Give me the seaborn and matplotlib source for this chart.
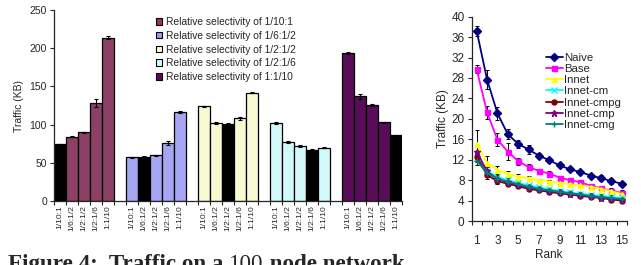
import numpy as np
import pandas as pd
import seaborn as sns
import matplotlib.pyplot as plt
from matplotlib.patches import Patch
from matplotlib.ticker import FixedLocator

# ---- left chart data: traffic by relative selectivity ----
selectivities = ["1/10:1", "1/6:1/2", "1/2:1/2", "1/2:1/6", "1:1/10"]
group_names = ["Relative selectivity of " + s for s in selectivities]
group_colors = ["#993366", "#9999FF", "#FFFFCC", "#CCFFFF", "#660066"]
traffic_g1 = [74, 84, 90, 128, 214]
traffic_g2 = [57, 58, 60, 76, 117]
traffic_g3 = [124, 102, 101, 108, 142]
traffic_g4 = [102, 77, 72, 67, 70]
traffic_g5 = [194, 137, 126, 103, 86]
err_g1 = [0.6, 0.8, 0.8, 5.5, 2.0]
err_g2 = [0.6, 0.6, 0.6, 2.8, 1.2]
err_g3 = [0.8, 1.2, 0.6, 1.8, 1.2]
err_g4 = [1.2, 1.5, 0.8, 0.5, 0.8]
err_g5 = [1.2, 3.2, 1.0, 1.0, 0.5]

# ---- right chart data: traffic by rank ----
ranks = list(range(1, 16))
series_names = ["Naive", "Base", "Innet", "Innet-cm", "Innet-cmpg", "Innet-cmp", "Innet-cmg"]
naive = [37.2, 27.7, 21.1, 17.0, 15.1, 14.0, 12.8, 11.9, 10.9, 10.1, 9.6, 8.9, 8.4, 7.8, 7.3]
base = [29.7, 21.3, 15.9, 13.6, 11.7, 10.6, 9.8, 9.3, 8.5, 8.0, 7.6, 6.9, 6.4, 5.9, 5.5]
innet = [15.1, 11.4, 10.0, 9.2, 8.7, 8.4, 8.0, 7.7, 7.5, 7.2, 7.0, 6.7, 6.3, 5.8, 5.3]
innet_cm = [12.4, 9.8, 8.6, 8.0, 7.4, 7.0, 6.6, 6.2, 5.9, 5.6, 5.3, 5.1, 4.9, 4.7, 4.5]
innet_cmpg = [12.6, 9.0, 7.8, 7.3, 6.8, 6.3, 6.0, 5.7, 5.4, 5.2, 4.9, 4.7, 4.5, 4.2, 4.0]
innet_cmp = [13.6, 9.7, 8.2, 7.6, 7.1, 6.6, 6.2, 5.9, 5.6, 5.3, 5.1, 4.8, 4.6, 4.4, 4.2]
innet_cmg = [11.8, 9.4, 8.3, 7.7, 7.2, 6.7, 6.3, 6.0, 5.7, 5.4, 5.2, 4.9, 4.7, 4.5, 4.3]
naive_err = [1.0, 1.9, 1.3, 1.0, 0.8, 0.8, 0.5, 0.4, 0.4, 0.4, 0.4, 0.4, 0.6, 0.6, 0.4]
base_err = [0.8, 1.3, 1.3, 1.6, 0.7, 0.5, 0.4, 0.4, 0.3, 0.3, 0.3, 0.3, 0.4, 0.5, 0.5]
innet_err = [2.7, 1.3, 0.8, 0.6, 0.5, 0.4, 0.3, 0.3, 0.3, 0.3, 0.3, 0.3, 0.3, 0.3, 0.3]
low_err = [0.9, 0.8, 0.5, 0.4, 0.3, 0.3, 0.3, 0.3, 0.3, 0.3, 0.3, 0.3, 0.3, 0.3, 0.3]
series_colors = ["#000080", "#FF00FF", "#FFFF00", "#00FFFF", "#800000", "#800080", "#008080"]
series_markers = ["D", "s", "^", "x", "o", "*", "+"]

sns.set_style("ticks")
plt.rcParams["font.family"] = ["Liberation Sans", "DejaVu Sans"]

fig = plt.figure(figsize=(6.41, 2.65), dpi=100)
ax1 = fig.add_axes([54 / 641, 64 / 265, 348 / 641, 191 / 265])
ax2 = fig.add_axes([471.5 / 641, 44 / 265, 155.5 / 641, 204.3 / 265])

# ---- left: grouped bars, one empty slot between groups ----
values = [traffic_g1, traffic_g2, traffic_g3, traffic_g4, traffic_g5]
errors = [err_g1, err_g2, err_g3, err_g4, err_g5]
rows = []
order = []
for g in range(5):
    for i in range(5):
        key = f"g{g}_{i}"
        order.append(key)
        rows.append(dict(key=key, value=values[g][i], err=errors[g][i],
                         label=selectivities[i],
                         color="black" if g == i else group_colors[g]))
    if g < 4:
        order.append(f"gap{g}")
bars = pd.DataFrame(rows)
bars["pos"] = [order.index(k) for k in bars["key"]]

sns.barplot(data=bars, x="key", y="value", hue="key", order=order,
            palette=dict(zip(bars["key"], bars["color"])), width=1.0,
            edgecolor="black", linewidth=0.9, legend=False, errorbar=None, ax=ax1)
ax1.errorbar(bars["pos"], bars["value"], yerr=bars["err"], fmt="none",
             ecolor="black", elinewidth=0.8, capsize=1.5, capthick=0.8)
ax1.set_xlim(-0.5, len(order) - 0.5)
ax1.set_ylim(0, 250)
ax1.set_yticks([0, 50, 100, 150, 200, 250])
ax1.set_xticks(bars["pos"])
ax1.set_xticklabels(bars["label"], rotation=90, fontsize=6)
ax1.xaxis.set_minor_locator(FixedLocator(np.arange(-0.5, len(order), 1.0)))
ax1.tick_params(axis="x", which="major", length=0, pad=3)
ax1.tick_params(axis="x", which="minor", length=3, width=0.8, direction="out")
ax1.tick_params(axis="y", labelsize=7.5, length=3, width=0.8, pad=2)
ax1.set_xlabel("")
ax1.set_ylabel("Traffic (KB)", fontsize=7.5, labelpad=4)
sns.despine(ax=ax1)
for sp in ax1.spines.values():
    sp.set_linewidth(0.9)
handles = [Patch(facecolor=c, edgecolor="black", linewidth=0.8) for c in group_colors]
fig.legend(handles, group_names, loc="upper left", bbox_to_anchor=(151 / 641, 1 - 12 / 265),
           frameon=False, fontsize=7.4, handlelength=0.6, handleheight=0.6,
           handletextpad=0.4, labelspacing=0.36, borderpad=0)

# ---- right: lines by rank ----
lines = pd.DataFrame({"rank": ranks * 7,
                      "traffic": naive + base + innet + innet_cm + innet_cmpg + innet_cmp + innet_cmg,
                      "series": np.repeat(series_names, len(ranks))})
line_errs = [naive_err, base_err, innet_err, low_err, low_err, low_err, low_err]
for name, err, c, m in zip(series_names, line_errs, series_colors, series_markers):
    d = lines[lines["series"] == name]
    ax2.errorbar(d["rank"], d["traffic"], yerr=err, fmt="none", ecolor="black",
                 elinewidth=0.7, capsize=1.5, capthick=0.7, zorder=1)
    sns.lineplot(data=d, x="rank", y="traffic", color=c, marker=m,
                 markersize=4.5 if m in "*+x" else 3.6,
                 markeredgecolor=c, markeredgewidth=1.0, linewidth=1.3,
                 label=name, ax=ax2, zorder=2)
ax2.set_xlim(0.5, 15.5)
ax2.set_ylim(0, 40)
ax2.set_yticks(range(0, 41, 4))
ax2.set_xticks(range(1, 16, 2))
ax2.xaxis.set_minor_locator(FixedLocator(np.arange(0.5, 16, 1.0)))
ax2.tick_params(axis="x", which="major", length=0, labelsize=8.5, pad=10)
ax2.tick_params(axis="x", which="minor", length=3, width=0.8)
ax2.tick_params(axis="y", labelsize=8.5, length=3, width=0.8, pad=2)
ax2.set_xlabel("Rank", fontsize=8.5, labelpad=1.5)
ax2.set_ylabel("Traffic (KB)", fontsize=8.5, labelpad=2)
sns.despine(ax=ax2)
for sp in ax2.spines.values():
    sp.set_linewidth(0.9)
ax2.legend(title=None, loc="upper left", bbox_to_anchor=(0.44, 0.85), frameon=False,
           fontsize=8.2, handlelength=1.5, handletextpad=0.15, labelspacing=0.1, borderpad=0)

# ---- caption, cut by the bottom edge ----
base_y = -5.2 / 265
t1 = fig.text(8 / 641, base_y, "Figure 4:  Traffic on a ", family="Liberation Serif",
              weight="bold", fontsize=16.6, va="baseline")
t2 = fig.text(0, 0, "100", family="Liberation Serif", fontsize=16.6)
t3 = fig.text(0, 0, " node network", family="Liberation Serif", weight="bold", fontsize=16.6)
fig.canvas.draw()
r = fig.canvas.get_renderer()
x = t1.get_window_extent(r).x1
t2.set_position((x / fig.bbox.width, base_y))
t2.set_va("baseline")
fig.canvas.draw()
x = t2.get_window_extent(r).x1
t3.set_position((x / fig.bbox.width, base_y))
t3.set_va("baseline")

fig.savefig("out.png", dpi=100)
